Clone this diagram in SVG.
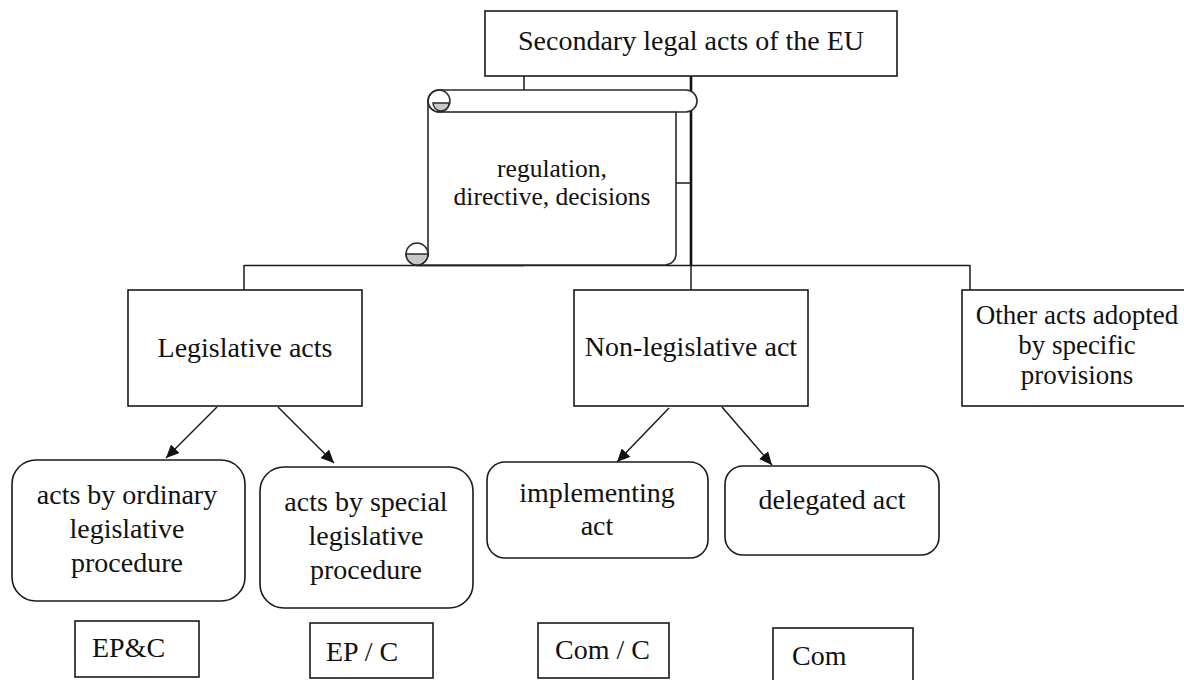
<svg xmlns="http://www.w3.org/2000/svg" width="1184" height="680" viewBox="0 0 1184 680" font-family="'Liberation Serif', 'Times New Roman', 'DejaVu Serif', serif">
<style>
  .box{fill:#fff;stroke:#1a1a1a;stroke-width:1.6}
  .rbox{fill:#fff;stroke:#1a1a1a;stroke-width:1.6}
  text{font-family:'Liberation Serif','Times New Roman','DejaVu Serif',serif;fill:#111}
  .t{font-size:28px}
  .ts{font-size:25.5px}
  .to{font-size:27px}
  .ln{fill:none;stroke:#1a1a1a;stroke-width:1.5}
  .thick{fill:none;stroke:#111;stroke-width:2.6}
  .arr{fill:none;stroke:#1a1a1a;stroke-width:1.5;marker-end:url(#ah)}
  .scroll{fill:#fff;stroke:#2a2a2a;stroke-width:1.6}
  .curl{fill:#c8c8c8;stroke:#2a2a2a;stroke-width:1.4}
</style>
<defs>
  <marker id="ah" markerUnits="userSpaceOnUse" markerWidth="14" markerHeight="12" refX="13" refY="6" orient="auto">
    <path d="M0,0 L13,6 L0,12 Z" fill="#111"/>
  </marker>
</defs>
<rect width="1184" height="680" fill="#fff"/>

<g id="connectors">
  <line class="ln" x1="524" y1="76" x2="524" y2="90"/>
  <line class="thick" x1="691" y1="76" x2="691" y2="265"/>
  <line class="ln" x1="676" y1="183" x2="691" y2="183"/>
  <line class="ln" x1="244" y1="265.5" x2="970" y2="265.5"/>
  <line class="thick" x1="416" y1="265" x2="524" y2="265"/>
  <line class="ln" x1="244" y1="265" x2="244" y2="290"/>
  <line class="ln" x1="691" y1="265" x2="691" y2="290"/>
  <line class="ln" x1="970" y1="265" x2="970" y2="290"/>
  <line class="arr" x1="217" y1="407" x2="166" y2="458"/>
  <line class="arr" x1="278" y1="407" x2="334" y2="463"/>
  <line class="arr" x1="669" y1="408" x2="617" y2="462"/>
  <line class="arr" x1="722" y1="407" x2="772" y2="465"/>
</g>

<g id="node-root">
  <rect class="box" x="485" y="11" width="412" height="65"/>
  <text class="t" x="691" y="50" text-anchor="middle">Secondary legal acts of the EU</text>
</g>

<g id="node-scroll">
  <path class="scroll" d="M417,265 H665 A11,11 0 0 0 676,254 V112 H686 A11,11 0 0 0 686,90 H439 A11,11 0 0 0 428,101 V254 A11,11 0 0 1 417,265 Z"/>
  <line class="ln" x1="439" y1="112" x2="676" y2="112"/>
  <circle cx="439" cy="101" r="11" fill="none" stroke="#2a2a2a" stroke-width="1.4"/>
  <path class="curl" d="M433,103 H449 A8,8 0 0 1 433,103 Z"/>
  <path d="M428,101 A11,11 0 0 0 439,112" fill="none" stroke="#2a2a2a" stroke-width="1.4"/>
  <circle cx="417" cy="254" r="11" fill="#fff" stroke="#2a2a2a" stroke-width="1.4"/>
  <path class="curl" d="M406,254 H428 A11,11 0 0 1 406,254 Z"/>
  <text class="ts" x="552" y="177" text-anchor="middle">regulation,</text>
  <text class="ts" x="552" y="205" text-anchor="middle">directive, decisions</text>
</g>

<g id="node-legislative">
  <rect class="box" x="128" y="290" width="234" height="116"/>
  <text class="t" x="245" y="357" text-anchor="middle">Legislative acts</text>
</g>

<g id="node-nonlegislative">
  <rect class="box" x="574" y="290" width="234" height="116"/>
  <text class="t" x="691" y="356" text-anchor="middle">Non-legislative act</text>
</g>

<g id="node-other">
  <rect class="box" x="962" y="290" width="240" height="116"/>
  <text class="to" x="1077" y="324" text-anchor="middle">Other acts adopted</text>
  <text class="to" x="1077" y="354" text-anchor="middle">by specific</text>
  <text class="to" x="1077" y="384" text-anchor="middle">provisions</text>
</g>

<g id="node-ordinary">
  <rect class="rbox" x="12" y="460" width="233" height="141" rx="24" ry="24"/>
  <text class="t" x="127" y="504" text-anchor="middle">acts by ordinary</text>
  <text class="t" x="127" y="538" text-anchor="middle">legislative</text>
  <text class="t" x="127" y="572" text-anchor="middle">procedure</text>
</g>

<g id="node-special">
  <rect class="rbox" x="260" y="467" width="213" height="141" rx="24" ry="24"/>
  <text class="t" x="366" y="511" text-anchor="middle">acts by special</text>
  <text class="t" x="366" y="545" text-anchor="middle">legislative</text>
  <text class="t" x="366" y="579" text-anchor="middle">procedure</text>
</g>

<g id="node-implementing">
  <rect class="rbox" x="487" y="462" width="221" height="96" rx="18" ry="18"/>
  <text class="t" x="597" y="502" text-anchor="middle">implementing</text>
  <text class="t" x="597" y="535" text-anchor="middle">act</text>
</g>

<g id="node-delegated">
  <rect class="rbox" x="725" y="466" width="214" height="89" rx="18" ry="18"/>
  <text class="t" x="832" y="509" text-anchor="middle">delegated act</text>
</g>

<g id="node-epc">
  <rect class="box" x="75" y="621" width="124" height="56"/>
  <text class="t" x="92" y="657">EP&amp;C</text>
</g>

<g id="node-ep-c">
  <rect class="box" x="310" y="623" width="123" height="55"/>
  <text class="t" x="326" y="661">EP / C</text>
</g>

<g id="node-com-c">
  <rect class="box" x="538" y="623" width="131" height="55"/>
  <text class="t" x="555" y="659">Com / C</text>
</g>

<g id="node-com">
  <rect class="box" x="773" y="628" width="140" height="60"/>
  <text class="t" x="792" y="665">Com</text>
</g>
</svg>
